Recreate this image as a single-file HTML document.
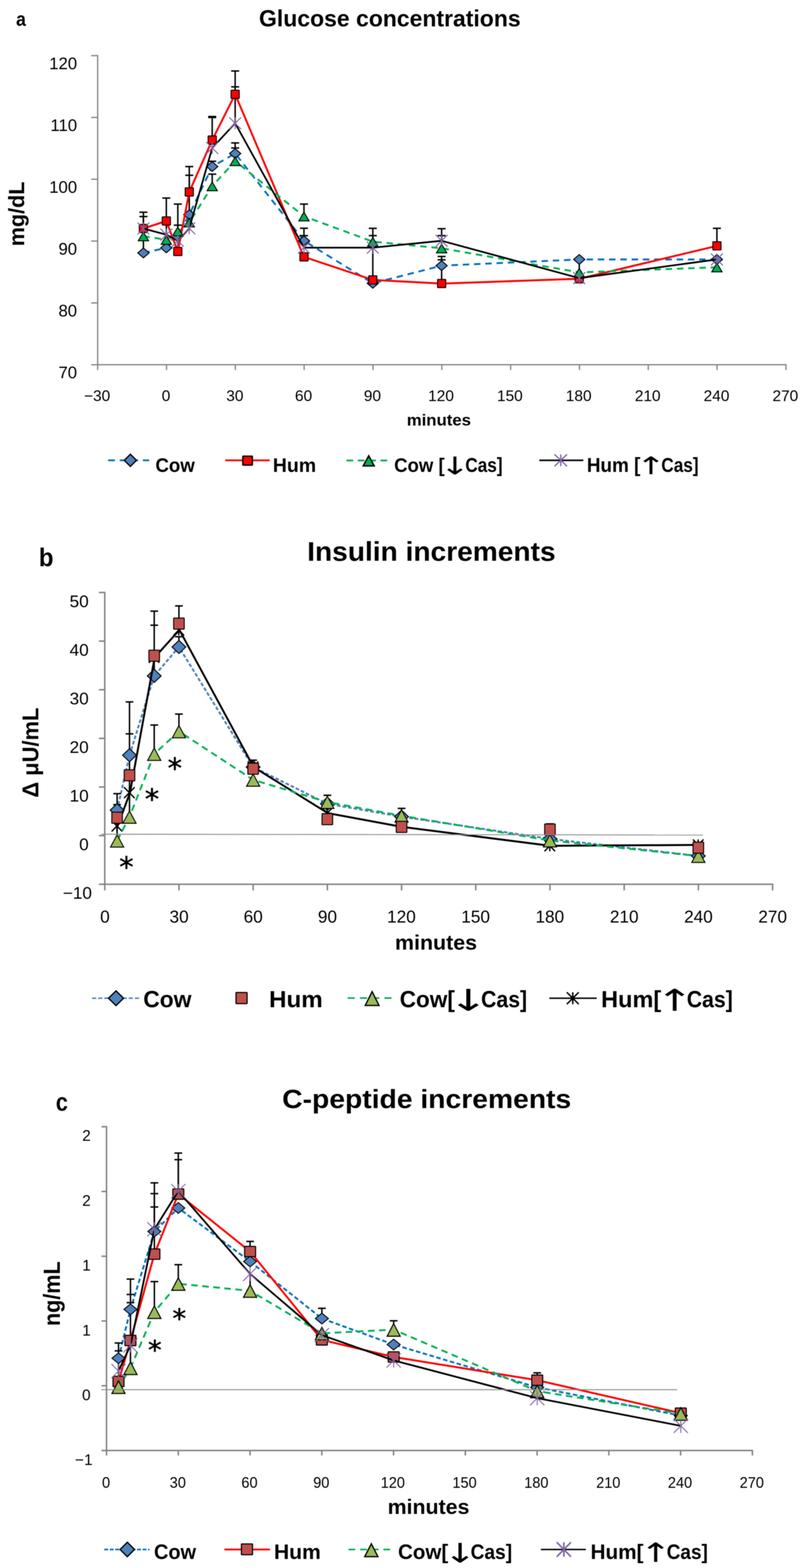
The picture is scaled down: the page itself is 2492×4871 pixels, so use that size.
<!DOCTYPE html>
<html lang="en"><head><meta charset="utf-8"><title>Glucose, insulin and C-peptide responses</title>
<style>
html,body{margin:0;padding:0;background:#fff}
svg{display:block;filter:blur(1px)}
text{font-family:"Liberation Sans",sans-serif;fill:#000}
</style></head>
<body>
<svg width="2492" height="4871" viewBox="0 0 2492 4871">
<rect width="2492" height="4871" fill="#fff"/>
<line x1="303.5" y1="170.8" x2="303.5" y2="1149.5" stroke="#868686" stroke-width="4"/>
<line x1="283.5" y1="1133.0" x2="2444.0" y2="1133.0" stroke="#868686" stroke-width="4"/>
<line x1="283.5" y1="172.8" x2="303.5" y2="172.8" stroke="#868686" stroke-width="4"/>
<line x1="283.5" y1="364.8" x2="303.5" y2="364.8" stroke="#868686" stroke-width="4"/>
<line x1="283.5" y1="556.9" x2="303.5" y2="556.9" stroke="#868686" stroke-width="4"/>
<line x1="283.5" y1="748.9" x2="303.5" y2="748.9" stroke="#868686" stroke-width="4"/>
<line x1="283.5" y1="941.0" x2="303.5" y2="941.0" stroke="#868686" stroke-width="4"/>
<line x1="517.4" y1="1133.0" x2="517.4" y2="1149.5" stroke="#868686" stroke-width="4"/>
<line x1="731.2" y1="1133.0" x2="731.2" y2="1149.5" stroke="#868686" stroke-width="4"/>
<line x1="945.0" y1="1133.0" x2="945.0" y2="1149.5" stroke="#868686" stroke-width="4"/>
<line x1="1158.9" y1="1133.0" x2="1158.9" y2="1149.5" stroke="#868686" stroke-width="4"/>
<line x1="1372.8" y1="1133.0" x2="1372.8" y2="1149.5" stroke="#868686" stroke-width="4"/>
<line x1="1586.6" y1="1133.0" x2="1586.6" y2="1149.5" stroke="#868686" stroke-width="4"/>
<line x1="1800.5" y1="1133.0" x2="1800.5" y2="1149.5" stroke="#868686" stroke-width="4"/>
<line x1="2014.3" y1="1133.0" x2="2014.3" y2="1149.5" stroke="#868686" stroke-width="4"/>
<line x1="2228.1" y1="1133.0" x2="2228.1" y2="1149.5" stroke="#868686" stroke-width="4"/>
<line x1="2442.0" y1="1133.0" x2="2442.0" y2="1149.5" stroke="#868686" stroke-width="4"/>
<text transform="translate(152.97,215.00) scale(1.0000,1)" font-size="51.86">120</text>
<text transform="translate(156.86,407.04) scale(1.0000,1)" font-size="51.86">110</text>
<text transform="translate(152.97,599.08) scale(1.0000,1)" font-size="51.86">100</text>
<text transform="translate(181.75,791.12) scale(1.0000,1)" font-size="51.86">90</text>
<text transform="translate(181.75,983.16) scale(1.0000,1)" font-size="51.86">80</text>
<text transform="translate(181.75,1175.20) scale(1.0000,1)" font-size="51.86">70</text>
<text transform="translate(261.08,1246.30) scale(1.0000,1)" font-size="48.00">−30</text>
<text transform="translate(502.53,1246.30) scale(1.0000,1)" font-size="48.00">0</text>
<text transform="translate(702.94,1246.30) scale(1.0000,1)" font-size="48.00">30</text>
<text transform="translate(916.55,1246.30) scale(1.0000,1)" font-size="48.00">60</text>
<text transform="translate(1130.52,1246.30) scale(1.0000,1)" font-size="48.00">90</text>
<text transform="translate(1330.33,1246.30) scale(1.0000,1)" font-size="48.00">120</text>
<text transform="translate(1544.18,1246.30) scale(1.0000,1)" font-size="48.00">150</text>
<text transform="translate(1758.03,1246.30) scale(1.0000,1)" font-size="48.00">180</text>
<text transform="translate(1972.48,1246.30) scale(1.0000,1)" font-size="48.00">210</text>
<text transform="translate(2186.33,1246.30) scale(1.0000,1)" font-size="48.00">240</text>
<text transform="translate(2400.18,1246.30) scale(1.0000,1)" font-size="48.00">270</text>
<text transform="translate(49.96,79.78) scale(0.8825,1)" font-size="62.00" font-weight="bold">a</text>
<text transform="translate(804.84,81.90) scale(0.9930,1)" font-size="71.88" font-weight="bold">Glucose concentrations</text>
<text transform="translate(75.10,764.95) rotate(-90) scale(0.9670,1)" font-size="69.28" font-weight="bold">mg/dL</text>
<text transform="translate(1263.92,1322.30) scale(1.0405,1)" font-size="50.00" font-weight="bold">minutes</text>
<polyline points="445.6,785.7 516.8,770.0 552.5,733.0 588.1,666.8 659.4,517.4 730.7,477.0 944.5,748.0 1158.4,880.0 1372.2,825.3 1799.9,806.0 2227.6,806.0" fill="none" stroke="#0070C0" stroke-width="5.8" stroke-linejoin="round" stroke-linecap="butt" stroke-dasharray="20 15"/>
<path d="M445.6,672.8V785.7M433.1,672.8H458.1" fill="none" stroke="#000" stroke-width="4.5"/>
<path d="M588.1,544.5V666.8M575.6,544.5H600.6" fill="none" stroke="#000" stroke-width="4.5"/>
<path d="M659.4,501.0V517.0M646.9,501.0H671.9" fill="none" stroke="#000" stroke-width="4.5"/>
<path d="M730.7,444.0V477.0M718.2,444.0H743.2" fill="none" stroke="#000" stroke-width="4.5"/>
<path d="M944.5,709.0V748.0M932.0,709.0H957.0" fill="none" stroke="#000" stroke-width="4.5"/>
<path d="M1372.2,796.7V825.0M1359.7,796.7H1384.7" fill="none" stroke="#000" stroke-width="4.5"/>
<path d="M445.6,659.2V709.9M433.1,659.2H458.1" fill="none" stroke="#000" stroke-width="4.5"/>
<path d="M516.8,615.2V686.5M504.3,615.2H529.3" fill="none" stroke="#000" stroke-width="4.5"/>
<path d="M552.5,634.0V781.0M540.0,634.0H565.0" fill="none" stroke="#000" stroke-width="4.5"/>
<path d="M588.1,517.4V596.0M575.6,517.4H600.6" fill="none" stroke="#000" stroke-width="4.5"/>
<path d="M659.4,363.0V435.0M646.9,362.0H671.9M646.9,365.0H671.9" fill="none" stroke="#000" stroke-width="4.5"/>
<path d="M730.7,220.5V293.0M718.2,220.5H743.2" fill="none" stroke="#000" stroke-width="4.5"/>
<path d="M1158.4,709.3V869.0M1145.9,709.3H1170.9" fill="none" stroke="#000" stroke-width="4.5"/>
<path d="M1372.2,807.0V881.0M1359.7,807.0H1384.7" fill="none" stroke="#000" stroke-width="4.5"/>
<path d="M2227.6,709.2V764.0M2215.1,709.2H2240.1" fill="none" stroke="#000" stroke-width="4.5"/>
<path d="M516.8,700.0V770.0" fill="none" stroke="#000" stroke-width="4.5"/>
<path d="M552.5,699.5V721.0M540.0,699.5H565.0" fill="none" stroke="#000" stroke-width="4.5"/>
<path d="M588.1,671.0V691.0M575.6,671.0H600.6" fill="none" stroke="#000" stroke-width="4.5"/>
<path d="M659.4,541.0V581.0M646.9,541.0H671.9" fill="none" stroke="#000" stroke-width="4.5"/>
<path d="M730.7,459.7V504.0M718.2,459.7H743.2" fill="none" stroke="#000" stroke-width="4.5"/>
<path d="M944.5,634.0V672.0M932.0,634.0H957.0" fill="none" stroke="#000" stroke-width="4.5"/>
<path d="M1158.4,732.0V750.0M1145.9,732.0H1170.9" fill="none" stroke="#000" stroke-width="4.5"/>
<path d="M1372.2,732.0V770.0M1359.7,732.0H1384.7" fill="none" stroke="#000" stroke-width="4.5"/>
<path d="M1799.9,815.0V864.0" fill="none" stroke="#000" stroke-width="4.5"/>
<path d="M2227.6,790.0V832.0" fill="none" stroke="#000" stroke-width="4.5"/>
<path d="M730.7,269.8V382.0M718.2,269.8H743.2" fill="none" stroke="#000" stroke-width="4.5"/>
<path d="M944.5,732.0V769.0M932.0,732.0H957.0" fill="none" stroke="#000" stroke-width="4.5"/>
<path d="M1372.2,710.6V748.0M1359.7,710.6H1384.7" fill="none" stroke="#000" stroke-width="4.5"/>
<path d="M445.6,770.5L463.1,785.7L445.6,801.0L428.1,785.7Z" fill="#4F81BD" stroke="#000" stroke-width="3" stroke-linejoin="miter"/>
<path d="M516.8,754.8L534.3,770.0L516.8,785.2L499.3,770.0Z" fill="#4F81BD" stroke="#000" stroke-width="3" stroke-linejoin="miter"/>
<path d="M552.5,717.8L570.0,733.0L552.5,748.2L535.0,733.0Z" fill="#4F81BD" stroke="#000" stroke-width="3" stroke-linejoin="miter"/>
<path d="M588.1,651.5L605.6,666.8L588.1,682.0L570.6,666.8Z" fill="#4F81BD" stroke="#000" stroke-width="3" stroke-linejoin="miter"/>
<path d="M659.4,502.1L676.9,517.4L659.4,532.6L641.9,517.4Z" fill="#4F81BD" stroke="#000" stroke-width="3" stroke-linejoin="miter"/>
<path d="M730.7,461.8L748.2,477.0L730.7,492.2L713.2,477.0Z" fill="#4F81BD" stroke="#000" stroke-width="3" stroke-linejoin="miter"/>
<path d="M944.5,732.8L962.0,748.0L944.5,763.2L927.0,748.0Z" fill="#4F81BD" stroke="#000" stroke-width="3" stroke-linejoin="miter"/>
<path d="M1158.4,864.8L1175.9,880.0L1158.4,895.2L1140.9,880.0Z" fill="#4F81BD" stroke="#000" stroke-width="3" stroke-linejoin="miter"/>
<path d="M1372.2,810.0L1389.7,825.3L1372.2,840.5L1354.7,825.3Z" fill="#4F81BD" stroke="#000" stroke-width="3" stroke-linejoin="miter"/>
<path d="M1799.9,790.8L1817.4,806.0L1799.9,821.2L1782.4,806.0Z" fill="#4F81BD" stroke="#000" stroke-width="3" stroke-linejoin="miter"/>
<path d="M2227.6,790.8L2245.1,806.0L2227.6,821.2L2210.1,806.0Z" fill="#4F81BD" stroke="#000" stroke-width="3" stroke-linejoin="miter"/>
<polyline points="445.6,709.9 516.8,686.5 552.5,781.2 588.1,596.3 659.4,435.0 730.7,293.0 944.5,798.0 1158.4,869.5 1372.2,880.9 1799.9,866.0 2227.6,763.8" fill="none" stroke="#FF0000" stroke-width="6" stroke-linejoin="round" stroke-linecap="butt"/>
<rect x="432.8" y="697.1" width="25.5" height="25.5" rx="1.5" fill="#FF0000" stroke="#000" stroke-width="3"/>
<rect x="504.1" y="673.8" width="25.5" height="25.5" rx="1.5" fill="#FF0000" stroke="#000" stroke-width="3"/>
<rect x="539.7" y="768.5" width="25.5" height="25.5" rx="1.5" fill="#FF0000" stroke="#000" stroke-width="3"/>
<rect x="575.4" y="583.5" width="25.5" height="25.5" rx="1.5" fill="#FF0000" stroke="#000" stroke-width="3"/>
<rect x="646.7" y="422.2" width="25.5" height="25.5" rx="1.5" fill="#FF0000" stroke="#000" stroke-width="3"/>
<rect x="717.9" y="280.2" width="25.5" height="25.5" rx="1.5" fill="#FF0000" stroke="#000" stroke-width="3"/>
<rect x="931.8" y="785.2" width="25.5" height="25.5" rx="1.5" fill="#FF0000" stroke="#000" stroke-width="3"/>
<rect x="1145.6" y="856.8" width="25.5" height="25.5" rx="1.5" fill="#FF0000" stroke="#000" stroke-width="3"/>
<rect x="1359.5" y="868.1" width="25.5" height="25.5" rx="1.5" fill="#FF0000" stroke="#000" stroke-width="3"/>
<rect x="1787.2" y="853.2" width="25.5" height="25.5" rx="1.5" fill="#FF0000" stroke="#000" stroke-width="3"/>
<rect x="2214.9" y="751.0" width="25.5" height="25.5" rx="1.5" fill="#FF0000" stroke="#000" stroke-width="3"/>
<polyline points="445.6,733.8 516.8,744.7 552.5,718.0 588.1,690.7 659.4,578.4 730.7,500.4 944.5,672.0 1158.4,750.6 1372.2,771.2 1799.9,846.2 2227.6,830.2" fill="none" stroke="#00B050" stroke-width="5.8" stroke-linejoin="round" stroke-linecap="butt" stroke-dasharray="20 15"/>
<path d="M445.6,721.0L461.6,748.0L429.6,748.0Z" fill="#00B050" stroke="#000" stroke-width="3" stroke-linejoin="miter"/>
<path d="M516.8,732.0L532.8,759.0L500.8,759.0Z" fill="#00B050" stroke="#000" stroke-width="3" stroke-linejoin="miter"/>
<path d="M552.5,705.2L568.5,732.2L536.5,732.2Z" fill="#00B050" stroke="#000" stroke-width="3" stroke-linejoin="miter"/>
<path d="M588.1,678.0L604.1,705.0L572.1,705.0Z" fill="#00B050" stroke="#000" stroke-width="3" stroke-linejoin="miter"/>
<path d="M659.4,565.6L675.4,592.6L643.4,592.6Z" fill="#00B050" stroke="#000" stroke-width="3" stroke-linejoin="miter"/>
<path d="M730.7,487.6L746.7,514.6L714.7,514.6Z" fill="#00B050" stroke="#000" stroke-width="3" stroke-linejoin="miter"/>
<path d="M944.5,659.2L960.5,686.2L928.5,686.2Z" fill="#00B050" stroke="#000" stroke-width="3" stroke-linejoin="miter"/>
<path d="M1158.4,737.9L1174.4,764.9L1142.4,764.9Z" fill="#00B050" stroke="#000" stroke-width="3" stroke-linejoin="miter"/>
<path d="M1372.2,758.5L1388.2,785.5L1356.2,785.5Z" fill="#00B050" stroke="#000" stroke-width="3" stroke-linejoin="miter"/>
<path d="M1799.9,833.5L1815.9,860.5L1783.9,860.5Z" fill="#00B050" stroke="#000" stroke-width="3" stroke-linejoin="miter"/>
<path d="M2227.6,817.5L2243.6,844.5L2211.6,844.5Z" fill="#00B050" stroke="#000" stroke-width="3" stroke-linejoin="miter"/>
<polyline points="445.6,709.9 516.8,729.0 552.5,748.1 588.1,709.3 659.4,459.7 730.7,382.8 944.5,769.3 1158.4,769.3 1372.2,748.0 1799.9,864.0 2227.6,806.0" fill="none" stroke="#000" stroke-width="5.3" stroke-linejoin="round" stroke-linecap="butt"/>
<path d="M427.1,691.4L464.1,728.4M464.1,691.4L427.1,728.4M445.6,691.4L445.6,728.4" fill="none" stroke="#8064A2" stroke-width="3.2"/>
<path d="M498.3,710.5L535.3,747.5M535.3,710.5L498.3,747.5M516.8,710.5L516.8,747.5" fill="none" stroke="#8064A2" stroke-width="3.2"/>
<path d="M534.0,729.6L571.0,766.6M571.0,729.6L534.0,766.6M552.5,729.6L552.5,766.6" fill="none" stroke="#8064A2" stroke-width="3.2"/>
<path d="M569.6,690.8L606.6,727.8M606.6,690.8L569.6,727.8M588.1,690.8L588.1,727.8" fill="none" stroke="#8064A2" stroke-width="3.2"/>
<path d="M640.9,441.2L677.9,478.2M677.9,441.2L640.9,478.2M659.4,441.2L659.4,478.2" fill="none" stroke="#8064A2" stroke-width="3.2"/>
<path d="M712.2,364.3L749.2,401.3M749.2,364.3L712.2,401.3M730.7,364.3L730.7,401.3" fill="none" stroke="#8064A2" stroke-width="3.2"/>
<path d="M926.0,750.8L963.0,787.8M963.0,750.8L926.0,787.8M944.5,750.8L944.5,787.8" fill="none" stroke="#8064A2" stroke-width="3.2"/>
<path d="M1139.9,750.8L1176.9,787.8M1176.9,750.8L1139.9,787.8M1158.4,750.8L1158.4,787.8" fill="none" stroke="#8064A2" stroke-width="3.2"/>
<path d="M1353.7,729.5L1390.7,766.5M1390.7,729.5L1353.7,766.5M1372.2,729.5L1372.2,766.5" fill="none" stroke="#8064A2" stroke-width="3.2"/>
<path d="M1781.4,845.5L1818.4,882.5M1818.4,845.5L1781.4,882.5M1799.9,845.5L1799.9,882.5" fill="none" stroke="#8064A2" stroke-width="3.2"/>
<path d="M2209.1,787.5L2246.1,824.5M2246.1,787.5L2209.1,824.5M2227.6,787.5L2227.6,824.5" fill="none" stroke="#8064A2" stroke-width="3.2"/>
<polyline points="336.0,1430.0 463.5,1430.0" fill="none" stroke="#0070C0" stroke-width="5.6" stroke-linejoin="round" stroke-linecap="butt" stroke-dasharray="21 15"/>
<path d="M405.1,1411.0L424.1,1430.0L405.1,1449.0L386.1,1430.0Z" fill="#4F81BD" stroke="#000" stroke-width="4" stroke-linejoin="miter"/>
<text transform="translate(482.98,1465.60) scale(0.9338,1)" font-size="62.03" font-weight="bold">Cow</text>
<polyline points="700.2,1430.0 838.0,1430.0" fill="none" stroke="#FF0000" stroke-width="5.6" stroke-linejoin="round" stroke-linecap="butt"/>
<rect x="754.5" y="1417.2" width="29.5" height="27.5" rx="1.5" fill="#FF0000" stroke="#000" stroke-width="4.5"/>
<text transform="translate(847.87,1465.60) scale(0.9758,1)" font-size="62.03" font-weight="bold">Hum</text>
<polyline points="1076.4,1430.5 1203.2,1430.5" fill="none" stroke="#00B050" stroke-width="5.6" stroke-linejoin="round" stroke-linecap="butt" stroke-dasharray="21 14.3"/>
<path d="M1145.7,1415.9L1162.7,1447.2L1128.7,1447.2Z" fill="#00B050" stroke="#000" stroke-width="4.5" stroke-linejoin="miter"/>
<text transform="translate(1224.69,1465.60) scale(0.9299,1)" font-size="62.03" font-weight="bold">Cow [</text>
<text transform="translate(1366.35,1474.00) scale(1.4855,1)" font-size="76.03" style="font-family:'DejaVu Sans',sans-serif">↓</text>
<text transform="translate(1445.66,1465.60) scale(0.8621,1)" font-size="62.03" font-weight="bold">Cas]</text>
<polyline points="1676.0,1430.0 1812.5,1430.0" fill="none" stroke="#000" stroke-width="4.8" stroke-linejoin="round" stroke-linecap="butt"/>
<path d="M1722.9,1411.5L1761.9,1448.5M1761.9,1411.5L1722.9,1448.5M1742.4,1411.5L1742.4,1448.5" fill="none" stroke="#8064A2" stroke-width="4"/>
<text transform="translate(1823.38,1465.60) scale(0.9480,1)" font-size="62.03" font-weight="bold">Hum [</text>
<text transform="translate(1975.68,1473.00) scale(1.4772,1)" font-size="75.34" style="font-family:'DejaVu Sans',sans-serif">↑</text>
<text transform="translate(2054.76,1465.60) scale(0.8621,1)" font-size="62.03" font-weight="bold">Cas]</text>
<line x1="325.5" y1="1838.4" x2="325.5" y2="2766.0" stroke="#808080" stroke-width="4.5"/>
<line x1="307.3" y1="2747.0" x2="2402.8" y2="2747.0" stroke="#808080" stroke-width="4.5"/>
<line x1="307.3" y1="1840.6" x2="325.5" y2="1840.6" stroke="#808080" stroke-width="4.5"/>
<line x1="307.3" y1="1991.7" x2="325.5" y2="1991.7" stroke="#808080" stroke-width="4.5"/>
<line x1="307.3" y1="2142.7" x2="325.5" y2="2142.7" stroke="#808080" stroke-width="4.5"/>
<line x1="307.3" y1="2293.8" x2="325.5" y2="2293.8" stroke="#808080" stroke-width="4.5"/>
<line x1="307.3" y1="2444.9" x2="325.5" y2="2444.9" stroke="#808080" stroke-width="4.5"/>
<line x1="307.3" y1="2595.9" x2="325.5" y2="2595.9" stroke="#808080" stroke-width="4.5"/>
<line x1="556.1" y1="2747.0" x2="556.1" y2="2766.0" stroke="#808080" stroke-width="4.5"/>
<line x1="786.6" y1="2747.0" x2="786.6" y2="2766.0" stroke="#808080" stroke-width="4.5"/>
<line x1="1017.2" y1="2747.0" x2="1017.2" y2="2766.0" stroke="#808080" stroke-width="4.5"/>
<line x1="1247.8" y1="2747.0" x2="1247.8" y2="2766.0" stroke="#808080" stroke-width="4.5"/>
<line x1="1478.3" y1="2747.0" x2="1478.3" y2="2766.0" stroke="#808080" stroke-width="4.5"/>
<line x1="1708.9" y1="2747.0" x2="1708.9" y2="2766.0" stroke="#808080" stroke-width="4.5"/>
<line x1="1939.5" y1="2747.0" x2="1939.5" y2="2766.0" stroke="#808080" stroke-width="4.5"/>
<line x1="2170.0" y1="2747.0" x2="2170.0" y2="2766.0" stroke="#808080" stroke-width="4.5"/>
<line x1="2400.6" y1="2747.0" x2="2400.6" y2="2766.0" stroke="#808080" stroke-width="4.5"/>
<text transform="translate(216.32,1886.00) scale(1.0400,1)" font-size="51.14">50</text>
<text transform="translate(216.32,2037.00) scale(1.0400,1)" font-size="51.14">40</text>
<text transform="translate(216.32,2188.00) scale(1.0400,1)" font-size="51.14">30</text>
<text transform="translate(216.32,2339.00) scale(1.0400,1)" font-size="51.14">20</text>
<text transform="translate(216.32,2490.00) scale(1.0400,1)" font-size="51.14">10</text>
<text transform="translate(246.11,2641.00) scale(1.0400,1)" font-size="51.14">0</text>
<text transform="translate(195.47,2792.30) scale(1.0400,1)" font-size="51.14">−10</text>
<text transform="translate(311.19,2866.20) scale(1.0100,1)" font-size="52.86">0</text>
<text transform="translate(526.80,2866.20) scale(1.0100,1)" font-size="52.86">30</text>
<text transform="translate(757.10,2866.20) scale(1.0100,1)" font-size="52.86">60</text>
<text transform="translate(987.80,2866.20) scale(1.0100,1)" font-size="52.86">90</text>
<text transform="translate(1202.76,2866.20) scale(1.0100,1)" font-size="52.86">120</text>
<text transform="translate(1433.32,2866.20) scale(1.0100,1)" font-size="52.86">150</text>
<text transform="translate(1663.89,2866.20) scale(1.0100,1)" font-size="52.86">180</text>
<text transform="translate(1895.12,2866.20) scale(1.0100,1)" font-size="52.86">210</text>
<text transform="translate(2125.69,2866.20) scale(1.0100,1)" font-size="52.86">240</text>
<text transform="translate(2356.26,2866.20) scale(1.0100,1)" font-size="52.86">270</text>
<text transform="translate(120.76,1759.30) scale(0.9421,1)" font-size="79.03" font-weight="bold">b</text>
<text transform="translate(954.42,1742.40) scale(1.0395,1)" font-size="84.06" font-weight="bold">Insulin increments</text>
<text transform="translate(118.80,2477.72) rotate(-90) scale(0.9618,1)" font-size="70.72" font-weight="bold">Δ μU/mL</text>
<text transform="translate(1227.27,2950.20) scale(1.0165,1)" font-size="65.47" font-weight="bold">minutes</text>
<polyline points="363.9,2516.8 402.4,2346.1 479.2,2099.7 556.0,2009.8 786.6,2383.0 1017.1,2497.0 1247.7,2537.0 1708.8,2606.0 2169.9,2659.0" fill="none" stroke="#4F81BD" stroke-width="6" stroke-linejoin="round" stroke-linecap="butt" stroke-dasharray="11.5 6"/>
<path d="M363.9,2465.6V2517.0M351.9,2465.6H375.9M351.9,2499.7H375.9" fill="none" stroke="#000" stroke-width="4.5"/>
<path d="M402.4,2180.5V2346.0M390.4,2180.5H414.4M390.4,2279.8H414.4" fill="none" stroke="#000" stroke-width="4.5"/>
<path d="M479.2,1898.6V2100.0M467.2,1898.6H491.2M467.2,1942.3H491.2" fill="none" stroke="#000" stroke-width="4.5"/>
<path d="M556.0,1978.0V2010.0M544.0,1978.0H568.0" fill="none" stroke="#000" stroke-width="4.5"/>
<path d="M786.6,2361.5V2383.0M774.6,2361.5H798.6" fill="none" stroke="#000" stroke-width="4.5"/>
<path d="M402.4,2346.0V2537.0" fill="none" stroke="#000" stroke-width="4.5"/>
<path d="M363.9,2540.0V2611.0" fill="none" stroke="#000" stroke-width="4.5"/>
<path d="M556.0,1882.3V1937.0M544.0,1882.3H568.0" fill="none" stroke="#000" stroke-width="4.5"/>
<path d="M1708.8,2559.5V2577.0M1696.8,2559.5H1720.8" fill="none" stroke="#000" stroke-width="4.5"/>
<path d="M479.2,2252.2V2342.0M467.2,2252.2H491.2" fill="none" stroke="#000" stroke-width="4.5"/>
<path d="M556.0,2218.2V2272.0M544.0,2218.2H568.0" fill="none" stroke="#000" stroke-width="4.5"/>
<path d="M1017.1,2470.4V2491.0M1005.1,2470.4H1029.2" fill="none" stroke="#000" stroke-width="4.5"/>
<path d="M1247.7,2511.3V2534.0M1235.7,2511.3H1259.7" fill="none" stroke="#000" stroke-width="4.5"/>
<path d="M363.9,2496.3L385.4,2516.8L363.9,2537.3L342.4,2516.8Z" fill="#4F81BD" stroke="#000" stroke-width="3" stroke-linejoin="miter"/>
<path d="M402.4,2325.6L423.9,2346.1L402.4,2366.6L380.9,2346.1Z" fill="#4F81BD" stroke="#000" stroke-width="3" stroke-linejoin="miter"/>
<path d="M479.2,2079.2L500.7,2099.7L479.2,2120.2L457.7,2099.7Z" fill="#4F81BD" stroke="#000" stroke-width="3" stroke-linejoin="miter"/>
<path d="M556.0,1989.3L577.5,2009.8L556.0,2030.3L534.5,2009.8Z" fill="#4F81BD" stroke="#000" stroke-width="3" stroke-linejoin="miter"/>
<path d="M786.6,2362.5L808.1,2383.0L786.6,2403.5L765.1,2383.0Z" fill="#4F81BD" stroke="#000" stroke-width="3" stroke-linejoin="miter"/>
<path d="M1017.1,2476.5L1038.7,2497.0L1017.1,2517.5L995.6,2497.0Z" fill="#4F81BD" stroke="#000" stroke-width="3" stroke-linejoin="miter"/>
<path d="M1247.7,2516.5L1269.2,2537.0L1247.7,2557.5L1226.2,2537.0Z" fill="#4F81BD" stroke="#000" stroke-width="3" stroke-linejoin="miter"/>
<path d="M1708.8,2585.5L1730.3,2606.0L1708.8,2626.5L1687.3,2606.0Z" fill="#4F81BD" stroke="#000" stroke-width="3" stroke-linejoin="miter"/>
<path d="M2169.9,2638.5L2191.4,2659.0L2169.9,2679.5L2148.4,2659.0Z" fill="#4F81BD" stroke="#000" stroke-width="3" stroke-linejoin="miter"/>
<polyline points="365.4,2566.0 403.9,2462.5 480.7,2042.0 557.5,1957.0 788.1,2383.0 1018.6,2526.0 1249.2,2568.7 1710.3,2627.5 2171.4,2624.8" fill="none" stroke="#000" stroke-width="6" stroke-linejoin="round" stroke-linecap="butt"/>
<path d="M346.9,2549.0L379.9,2583.0M379.9,2549.0L346.9,2583.0M363.4,2549.0L363.4,2583.0" fill="none" stroke="#000" stroke-width="4.3"/>
<path d="M385.4,2445.5L418.4,2479.5M418.4,2445.5L385.4,2479.5M401.9,2445.5L401.9,2479.5" fill="none" stroke="#000" stroke-width="4.3"/>
<path d="M462.2,2025.0L495.2,2059.0M495.2,2025.0L462.2,2059.0M478.7,2025.0L478.7,2059.0" fill="none" stroke="#000" stroke-width="4.3"/>
<path d="M539.0,1940.0L572.0,1974.0M572.0,1940.0L539.0,1974.0M555.5,1940.0L555.5,1974.0" fill="none" stroke="#000" stroke-width="4.3"/>
<path d="M769.6,2366.0L802.6,2400.0M802.6,2366.0L769.6,2400.0M786.1,2366.0L786.1,2400.0" fill="none" stroke="#000" stroke-width="4.3"/>
<path d="M1000.1,2509.0L1033.2,2543.0M1033.2,2509.0L1000.1,2543.0M1016.6,2509.0L1016.6,2543.0" fill="none" stroke="#000" stroke-width="4.3"/>
<path d="M1230.7,2551.7L1263.7,2585.7M1263.7,2551.7L1230.7,2585.7M1247.2,2551.7L1247.2,2585.7" fill="none" stroke="#000" stroke-width="4.3"/>
<path d="M1691.8,2610.5L1724.8,2644.5M1724.8,2610.5L1691.8,2644.5M1708.3,2610.5L1708.3,2644.5" fill="none" stroke="#000" stroke-width="4.3"/>
<path d="M2152.9,2607.8L2185.9,2641.8M2185.9,2607.8L2152.9,2641.8M2169.4,2607.8L2169.4,2641.8" fill="none" stroke="#000" stroke-width="4.3"/>
<polyline points="363.9,2611.6 402.4,2537.6 479.2,2342.3 556.0,2272.0 786.6,2422.6 1017.1,2491.6 1247.7,2534.1 1708.8,2611.0 2169.9,2659.3" fill="none" stroke="#00B050" stroke-width="5.8" stroke-linejoin="round" stroke-linecap="butt" stroke-dasharray="20.5 14"/>
<path d="M363.9,2593.1L384.4,2631.6L343.4,2631.6Z" fill="#9BBB59" stroke="#000" stroke-width="3" stroke-linejoin="miter"/>
<path d="M402.4,2519.1L422.9,2557.6L381.9,2557.6Z" fill="#9BBB59" stroke="#000" stroke-width="3" stroke-linejoin="miter"/>
<path d="M479.2,2323.8L499.7,2362.3L458.7,2362.3Z" fill="#9BBB59" stroke="#000" stroke-width="3" stroke-linejoin="miter"/>
<path d="M556.0,2253.5L576.5,2292.0L535.5,2292.0Z" fill="#9BBB59" stroke="#000" stroke-width="3" stroke-linejoin="miter"/>
<path d="M786.6,2404.1L807.1,2442.6L766.1,2442.6Z" fill="#9BBB59" stroke="#000" stroke-width="3" stroke-linejoin="miter"/>
<path d="M1017.1,2473.1L1037.7,2511.6L996.6,2511.6Z" fill="#9BBB59" stroke="#000" stroke-width="3" stroke-linejoin="miter"/>
<path d="M1247.7,2515.6L1268.2,2554.1L1227.2,2554.1Z" fill="#9BBB59" stroke="#000" stroke-width="3" stroke-linejoin="miter"/>
<path d="M1708.8,2592.5L1729.3,2631.0L1688.3,2631.0Z" fill="#9BBB59" stroke="#000" stroke-width="3" stroke-linejoin="miter"/>
<path d="M2169.9,2640.8L2190.4,2679.3L2149.4,2679.3Z" fill="#9BBB59" stroke="#000" stroke-width="3" stroke-linejoin="miter"/>
<rect x="347.4" y="2523.1" width="33.0" height="34.5" rx="1.5" fill="#C0504D" stroke="#000" stroke-width="3"/>
<rect x="385.9" y="2391.3" width="33.0" height="34.5" rx="1.5" fill="#C0504D" stroke="#000" stroke-width="3"/>
<rect x="462.7" y="2019.8" width="33.0" height="34.5" rx="1.5" fill="#C0504D" stroke="#000" stroke-width="3"/>
<rect x="539.5" y="1920.0" width="33.0" height="34.5" rx="1.5" fill="#C0504D" stroke="#000" stroke-width="3"/>
<rect x="770.1" y="2370.8" width="33.0" height="34.5" rx="1.5" fill="#C0504D" stroke="#000" stroke-width="3"/>
<rect x="1000.6" y="2527.6" width="33.0" height="34.5" rx="1.5" fill="#C0504D" stroke="#000" stroke-width="3"/>
<rect x="1231.2" y="2551.4" width="33.0" height="34.5" rx="1.5" fill="#C0504D" stroke="#000" stroke-width="3"/>
<rect x="1692.3" y="2559.8" width="33.0" height="34.5" rx="1.5" fill="#C0504D" stroke="#000" stroke-width="3"/>
<rect x="2153.4" y="2616.1" width="33.0" height="34.5" rx="1.5" fill="#C0504D" stroke="#000" stroke-width="3"/>
<line x1="315.0" y1="2591.5" x2="2184.5" y2="2594.0" stroke="#8c8c8c" stroke-width="2.8"/>
<text transform="translate(520.93,2417.10) scale(1.0236,1)" font-size="87.03" style="font-family:'DejaVu Sans',sans-serif" stroke="#000" stroke-width="1.3" stroke-linejoin="round">*</text>
<text transform="translate(449.93,2513.00) scale(1.0236,1)" font-size="87.03" style="font-family:'DejaVu Sans',sans-serif" stroke="#000" stroke-width="1.3" stroke-linejoin="round">*</text>
<text transform="translate(370.43,2723.60) scale(1.0236,1)" font-size="87.03" style="font-family:'DejaVu Sans',sans-serif" stroke="#000" stroke-width="1.3" stroke-linejoin="round">*</text>
<polyline points="286.0,3101.0 432.5,3101.0" fill="none" stroke="#4F81BD" stroke-width="4.4" stroke-linejoin="round" stroke-linecap="butt" stroke-dasharray="13 6"/>
<path d="M360.5,3078.0L384.0,3101.0L360.5,3124.0L337.0,3101.0Z" fill="#4F81BD" stroke="#000" stroke-width="4" stroke-linejoin="miter"/>
<text transform="translate(445.16,3128.80) scale(0.9826,1)" font-size="72.17" font-weight="bold">Cow</text>
<rect x="733.4" y="3083.3" width="34.4" height="34.4" rx="1.5" fill="#C0504D" stroke="#000" stroke-width="3.6"/>
<text transform="translate(835.92,3128.80) scale(1.0410,1)" font-size="72.17" font-weight="bold">Hum</text>
<polyline points="1080.5,3100.5 1217.0,3100.5" fill="none" stroke="#00B050" stroke-width="5" stroke-linejoin="round" stroke-linecap="butt" stroke-dasharray="22 16"/>
<path d="M1156.3,3080.5L1177.8,3123.5L1134.8,3123.5Z" fill="#9BBB59" stroke="#000" stroke-width="4" stroke-linejoin="miter"/>
<text transform="translate(1241.99,3128.80) scale(0.9716,1)" font-size="72.17" font-weight="bold">Cow[</text>
<text transform="translate(1391.44,3140.40) scale(1.6366,1)" font-size="92.88" style="font-family:'DejaVu Sans',sans-serif">↓</text>
<text transform="translate(1494.86,3128.80) scale(0.9137,1)" font-size="72.17" font-weight="bold">Cas]</text>
<polyline points="1707.0,3101.0 1854.0,3101.0" fill="none" stroke="#000" stroke-width="4.6" stroke-linejoin="round" stroke-linecap="butt"/>
<path d="M1761.2,3082.5L1798.2,3119.5M1798.2,3082.5L1761.2,3119.5M1779.7,3082.5L1779.7,3119.5" fill="none" stroke="#000" stroke-width="4.5"/>
<text transform="translate(1867.75,3128.80) scale(1.0129,1)" font-size="72.17" font-weight="bold">Hum[</text>
<text transform="translate(2037.36,3139.60) scale(1.5089,1)" font-size="93.56" style="font-family:'DejaVu Sans',sans-serif">↑</text>
<text transform="translate(2133.96,3128.80) scale(0.9143,1)" font-size="72.17" font-weight="bold">Cas]</text>
<line x1="331.0" y1="3497.9" x2="331.0" y2="4521.5" stroke="#808080" stroke-width="4.5"/>
<line x1="315.5" y1="4506.0" x2="2340.0" y2="4506.0" stroke="#808080" stroke-width="4.5"/>
<line x1="315.5" y1="3500.1" x2="331.0" y2="3500.1" stroke="#808080" stroke-width="4.5"/>
<line x1="315.5" y1="3701.3" x2="331.0" y2="3701.3" stroke="#808080" stroke-width="4.5"/>
<line x1="315.5" y1="3902.5" x2="331.0" y2="3902.5" stroke="#808080" stroke-width="4.5"/>
<line x1="315.5" y1="4103.6" x2="331.0" y2="4103.6" stroke="#808080" stroke-width="4.5"/>
<line x1="315.5" y1="4304.8" x2="331.0" y2="4304.8" stroke="#808080" stroke-width="4.5"/>
<line x1="554.0" y1="4506.0" x2="554.0" y2="4521.5" stroke="#808080" stroke-width="4.5"/>
<line x1="777.0" y1="4506.0" x2="777.0" y2="4521.5" stroke="#808080" stroke-width="4.5"/>
<line x1="999.9" y1="4506.0" x2="999.9" y2="4521.5" stroke="#808080" stroke-width="4.5"/>
<line x1="1222.9" y1="4506.0" x2="1222.9" y2="4521.5" stroke="#808080" stroke-width="4.5"/>
<line x1="1445.9" y1="4506.0" x2="1445.9" y2="4521.5" stroke="#808080" stroke-width="4.5"/>
<line x1="1668.9" y1="4506.0" x2="1668.9" y2="4521.5" stroke="#808080" stroke-width="4.5"/>
<line x1="1891.8" y1="4506.0" x2="1891.8" y2="4521.5" stroke="#808080" stroke-width="4.5"/>
<line x1="2114.8" y1="4506.0" x2="2114.8" y2="4521.5" stroke="#808080" stroke-width="4.5"/>
<line x1="2337.8" y1="4506.0" x2="2337.8" y2="4521.5" stroke="#808080" stroke-width="4.5"/>
<text transform="translate(255.58,3544.20) scale(1.0000,1)" font-size="47.57">2</text>
<text transform="translate(255.58,3745.70) scale(1.0000,1)" font-size="47.57">2</text>
<text transform="translate(255.58,3947.20) scale(1.0000,1)" font-size="47.57">1</text>
<text transform="translate(255.58,4148.70) scale(1.0000,1)" font-size="47.57">1</text>
<text transform="translate(255.10,4350.00) scale(1.0000,1)" font-size="47.57">0</text>
<text transform="translate(233.35,4551.40) scale(1.0000,1)" font-size="47.57">−1</text>
<text transform="translate(316.96,4621.60) scale(0.9500,1)" font-size="47.57">0</text>
<text transform="translate(527.28,4621.60) scale(0.9500,1)" font-size="47.57">30</text>
<text transform="translate(750.03,4621.60) scale(0.9500,1)" font-size="47.57">60</text>
<text transform="translate(973.13,4621.60) scale(0.9500,1)" font-size="47.57">90</text>
<text transform="translate(1182.88,4621.60) scale(0.9500,1)" font-size="47.57">120</text>
<text transform="translate(1405.86,4621.60) scale(0.9500,1)" font-size="47.57">150</text>
<text transform="translate(1628.84,4621.60) scale(0.9500,1)" font-size="47.57">180</text>
<text transform="translate(1852.38,4621.60) scale(0.9500,1)" font-size="47.57">210</text>
<text transform="translate(2075.36,4621.60) scale(0.9500,1)" font-size="47.57">240</text>
<text transform="translate(2298.34,4621.60) scale(0.9500,1)" font-size="47.57">270</text>
<text transform="translate(173.62,3450.00) scale(0.8558,1)" font-size="78.30" font-weight="bold">c</text>
<text transform="translate(876.79,3442.00) scale(1.0730,1)" font-size="81.88" font-weight="bold">C-peptide increments</text>
<text transform="translate(185.90,4119.35) rotate(-90) scale(0.9376,1)" font-size="71.45" font-weight="bold">ng/mL</text>
<text transform="translate(1204.39,4703.40) scale(1.0187,1)" font-size="65.09" font-weight="bold">minutes</text>
<polyline points="368.2,4219.3 405.4,4067.6 479.7,3825.5 554.0,3752.7 777.1,3918.8 1000.1,4096.0 1223.2,4176.8 1669.3,4310.0 2115.4,4397.6" fill="none" stroke="#0070C0" stroke-width="5.8" stroke-linejoin="round" stroke-linecap="butt" stroke-dasharray="14 8"/>
<path d="M368.2,4172.0V4219.0M356.2,4172.0H380.2M356.2,4196.6H380.2" fill="none" stroke="#000" stroke-width="4.5"/>
<path d="M405.4,3973.5V4067.0M393.4,3973.5H417.4M393.4,4021.3H417.4M393.4,4046.7H417.4" fill="none" stroke="#000" stroke-width="4.5"/>
<path d="M479.7,3749.5V3825.0M467.7,3749.5H491.7" fill="none" stroke="#000" stroke-width="4.5"/>
<path d="M1000.1,4064.2V4096.0M988.1,4064.2H1012.1" fill="none" stroke="#000" stroke-width="4.5"/>
<path d="M368.2,4219.0V4291.0" fill="none" stroke="#000" stroke-width="4.5"/>
<path d="M405.4,4067.0V4250.0" fill="none" stroke="#000" stroke-width="4.5"/>
<path d="M479.7,3708.0V3896.0M467.7,3708.0H491.7" fill="none" stroke="#000" stroke-width="4.5"/>
<path d="M554.0,3602.4V3709.0M542.0,3602.4H566.0" fill="none" stroke="#000" stroke-width="4.5"/>
<path d="M777.1,3856.4V3888.0M765.1,3856.4H789.1" fill="none" stroke="#000" stroke-width="4.5"/>
<path d="M1669.3,4264.8V4288.0M1657.3,4264.8H1681.3" fill="none" stroke="#000" stroke-width="4.5"/>
<path d="M479.7,3981.3V4075.0M467.7,3981.3H491.7" fill="none" stroke="#000" stroke-width="4.5"/>
<path d="M554.0,3928.8V3988.0M542.0,3928.8H566.0" fill="none" stroke="#000" stroke-width="4.5"/>
<path d="M777.1,3960.0V4010.0" fill="none" stroke="#000" stroke-width="4.5"/>
<path d="M1223.2,4103.0V4130.0M1211.2,4103.0H1235.2" fill="none" stroke="#000" stroke-width="4.5"/>
<path d="M479.7,3674.4V3818.0M467.7,3674.4H491.7" fill="none" stroke="#000" stroke-width="4.5"/>
<path d="M554.0,3582.0V3700.0M542.0,3582.0H566.0" fill="none" stroke="#000" stroke-width="4.5"/>
<path d="M368.2,4202.6L388.4,4219.3L368.2,4236.1L347.9,4219.3Z" fill="#4F81BD" stroke="#000" stroke-width="3" stroke-linejoin="miter"/>
<path d="M405.4,4050.8L425.6,4067.6L405.4,4084.3L385.1,4067.6Z" fill="#4F81BD" stroke="#000" stroke-width="3" stroke-linejoin="miter"/>
<path d="M479.7,3808.8L499.9,3825.5L479.7,3842.2L459.4,3825.5Z" fill="#4F81BD" stroke="#000" stroke-width="3" stroke-linejoin="miter"/>
<path d="M554.0,3735.9L574.3,3752.7L554.0,3769.4L533.8,3752.7Z" fill="#4F81BD" stroke="#000" stroke-width="3" stroke-linejoin="miter"/>
<path d="M777.1,3902.1L797.3,3918.8L777.1,3935.6L756.8,3918.8Z" fill="#4F81BD" stroke="#000" stroke-width="3" stroke-linejoin="miter"/>
<path d="M1000.1,4079.2L1020.4,4096.0L1000.1,4112.8L979.9,4096.0Z" fill="#4F81BD" stroke="#000" stroke-width="3" stroke-linejoin="miter"/>
<path d="M1223.2,4160.1L1243.4,4176.8L1223.2,4193.6L1202.9,4176.8Z" fill="#4F81BD" stroke="#000" stroke-width="3" stroke-linejoin="miter"/>
<path d="M1669.3,4293.2L1689.5,4310.0L1669.3,4326.8L1649.0,4310.0Z" fill="#4F81BD" stroke="#000" stroke-width="3" stroke-linejoin="miter"/>
<path d="M2115.4,4380.9L2135.6,4397.6L2115.4,4414.4L2095.1,4397.6Z" fill="#4F81BD" stroke="#000" stroke-width="3" stroke-linejoin="miter"/>
<polyline points="368.2,4291.4 405.4,4164.3 479.7,3896.0 554.0,3709.4 777.1,3887.9 1000.1,4162.4 1223.2,4215.5 1669.3,4287.6 2115.4,4390.0" fill="none" stroke="#FF0000" stroke-width="6" stroke-linejoin="round" stroke-linecap="butt"/>
<rect x="351.1" y="4275.3" width="34.2" height="32.2" rx="1.5" fill="#C0504D" stroke="#000" stroke-width="3.3"/>
<rect x="388.2" y="4148.2" width="34.2" height="32.2" rx="1.5" fill="#C0504D" stroke="#000" stroke-width="3.3"/>
<rect x="462.6" y="3879.9" width="34.2" height="32.2" rx="1.5" fill="#C0504D" stroke="#000" stroke-width="3.3"/>
<rect x="536.9" y="3693.3" width="34.2" height="32.2" rx="1.5" fill="#C0504D" stroke="#000" stroke-width="3.3"/>
<rect x="760.0" y="3871.8" width="34.2" height="32.2" rx="1.5" fill="#C0504D" stroke="#000" stroke-width="3.3"/>
<rect x="983.0" y="4146.3" width="34.2" height="32.2" rx="1.5" fill="#C0504D" stroke="#000" stroke-width="3.3"/>
<rect x="1206.1" y="4199.4" width="34.2" height="32.2" rx="1.5" fill="#C0504D" stroke="#000" stroke-width="3.3"/>
<rect x="1652.2" y="4271.5" width="34.2" height="32.2" rx="1.5" fill="#C0504D" stroke="#000" stroke-width="3.3"/>
<rect x="2098.3" y="4373.9" width="34.2" height="32.2" rx="1.5" fill="#C0504D" stroke="#000" stroke-width="3.3"/>
<polyline points="368.2,4308.5 405.4,4249.7 479.7,4075.5 554.0,3988.0 777.1,4009.9 1000.1,4142.0 1223.2,4130.6 1669.3,4321.6 2115.4,4391.7" fill="none" stroke="#00B050" stroke-width="5.8" stroke-linejoin="round" stroke-linecap="butt" stroke-dasharray="20.5 14"/>
<path d="M368.2,4289.8L388.6,4328.9L347.7,4328.9Z" fill="#9BBB59" stroke="#000" stroke-width="3.3" stroke-linejoin="miter"/>
<path d="M405.4,4231.0L425.8,4270.1L384.9,4270.1Z" fill="#9BBB59" stroke="#000" stroke-width="3.3" stroke-linejoin="miter"/>
<path d="M479.7,4056.8L500.1,4095.8L459.2,4095.8Z" fill="#9BBB59" stroke="#000" stroke-width="3.3" stroke-linejoin="miter"/>
<path d="M554.0,3969.3L574.5,4008.3L533.6,4008.3Z" fill="#9BBB59" stroke="#000" stroke-width="3.3" stroke-linejoin="miter"/>
<path d="M777.1,3991.2L797.5,4030.2L756.6,4030.2Z" fill="#9BBB59" stroke="#000" stroke-width="3.3" stroke-linejoin="miter"/>
<path d="M1000.1,4123.3L1020.6,4162.4L979.7,4162.4Z" fill="#9BBB59" stroke="#000" stroke-width="3.3" stroke-linejoin="miter"/>
<path d="M1223.2,4111.9L1243.6,4151.0L1202.7,4151.0Z" fill="#9BBB59" stroke="#000" stroke-width="3.3" stroke-linejoin="miter"/>
<path d="M1669.3,4302.9L1689.8,4342.0L1648.8,4342.0Z" fill="#9BBB59" stroke="#000" stroke-width="3.3" stroke-linejoin="miter"/>
<path d="M2115.4,4373.0L2135.8,4412.1L2094.9,4412.1Z" fill="#9BBB59" stroke="#000" stroke-width="3.3" stroke-linejoin="miter"/>
<polyline points="368.2,4259.2 405.4,4179.5 479.7,3818.7 554.0,3700.3 777.1,3957.5 1000.1,4147.6 1223.2,4226.2 1669.3,4343.4 2115.4,4429.4" fill="none" stroke="#000" stroke-width="5.5" stroke-linejoin="round" stroke-linecap="butt"/>
<path d="M346.2,4237.2L390.2,4281.2M390.2,4237.2L346.2,4281.2M368.2,4237.2L368.2,4281.2" fill="none" stroke="#8064A2" stroke-width="3"/>
<path d="M383.4,4157.5L427.4,4201.5M427.4,4157.5L383.4,4201.5M405.4,4157.5L405.4,4201.5" fill="none" stroke="#8064A2" stroke-width="3"/>
<path d="M457.7,3796.7L501.7,3840.7M501.7,3796.7L457.7,3840.7M479.7,3796.7L479.7,3840.7" fill="none" stroke="#8064A2" stroke-width="3"/>
<path d="M532.0,3678.3L576.0,3722.3M576.0,3678.3L532.0,3722.3M554.0,3678.3L554.0,3722.3" fill="none" stroke="#8064A2" stroke-width="3"/>
<path d="M755.1,3935.5L799.1,3979.5M799.1,3935.5L755.1,3979.5M777.1,3935.5L777.1,3979.5" fill="none" stroke="#8064A2" stroke-width="3"/>
<path d="M978.1,4125.6L1022.1,4169.6M1022.1,4125.6L978.1,4169.6M1000.1,4125.6L1000.1,4169.6" fill="none" stroke="#8064A2" stroke-width="3"/>
<path d="M1201.2,4204.2L1245.2,4248.2M1245.2,4204.2L1201.2,4248.2M1223.2,4204.2L1223.2,4248.2" fill="none" stroke="#8064A2" stroke-width="3"/>
<path d="M1647.3,4321.4L1691.3,4365.4M1691.3,4321.4L1647.3,4365.4M1669.3,4321.4L1669.3,4365.4" fill="none" stroke="#8064A2" stroke-width="3"/>
<path d="M2093.4,4407.4L2137.4,4451.4M2137.4,4407.4L2093.4,4451.4M2115.4,4407.4L2115.4,4451.4" fill="none" stroke="#8064A2" stroke-width="3"/>
<line x1="315.0" y1="4317.0" x2="2104.0" y2="4317.0" stroke="#8c8c8c" stroke-width="2.8"/>
<text transform="translate(535.64,4125.05) scale(1.0341,1)" font-size="82.64" style="font-family:'DejaVu Sans',sans-serif" stroke="#000" stroke-width="1.3" stroke-linejoin="round">*</text>
<text transform="translate(459.64,4222.95) scale(1.0341,1)" font-size="82.64" style="font-family:'DejaVu Sans',sans-serif" stroke="#000" stroke-width="1.3" stroke-linejoin="round">*</text>
<polyline points="324.0,4813.5 464.6,4813.5" fill="none" stroke="#0070C0" stroke-width="4.8" stroke-linejoin="round" stroke-linecap="butt" stroke-dasharray="12 5"/>
<path d="M395.6,4791.0L418.1,4813.5L395.6,4836.0L373.1,4813.5Z" fill="#4F81BD" stroke="#000" stroke-width="4" stroke-linejoin="miter"/>
<text transform="translate(478.52,4843.40) scale(0.9581,1)" font-size="64.64" font-weight="bold">Cow</text>
<polyline points="697.3,4813.5 839.0,4813.5" fill="none" stroke="#FF0000" stroke-width="5.4" stroke-linejoin="round" stroke-linecap="butt"/>
<rect x="750.2" y="4796.3" width="34.4" height="33.4" rx="1.5" fill="#C0504D" stroke="#000" stroke-width="3.6"/>
<text transform="translate(851.14,4843.40) scale(1.0147,1)" font-size="64.64" font-weight="bold">Hum</text>
<polyline points="1082.8,4813.5 1212.5,4813.5" fill="none" stroke="#00B050" stroke-width="5" stroke-linejoin="round" stroke-linecap="butt" stroke-dasharray="21 15.2"/>
<path d="M1153.8,4795.7L1174.3,4835.7L1133.3,4835.7Z" fill="#9BBB59" stroke="#000" stroke-width="4" stroke-linejoin="miter"/>
<text transform="translate(1236.74,4843.40) scale(0.9885,1)" font-size="64.64" font-weight="bold">Cow[</text>
<text transform="translate(1377.77,4853.70) scale(1.4703,1)" font-size="83.70" style="font-family:'DejaVu Sans',sans-serif">↓</text>
<text transform="translate(1462.32,4843.40) scale(0.9200,1)" font-size="64.64" font-weight="bold">Cas]</text>
<polyline points="1680.7,4813.5 1820.4,4813.5" fill="none" stroke="#000" stroke-width="4.6" stroke-linejoin="round" stroke-linecap="butt"/>
<path d="M1730.0,4791.0L1774.0,4836.0M1774.0,4791.0L1730.0,4836.0M1752.0,4791.0L1752.0,4836.0" fill="none" stroke="#8064A2" stroke-width="5"/>
<text transform="translate(1835.12,4843.40) scale(0.9950,1)" font-size="64.64" font-weight="bold">Hum[</text>
<text transform="translate(1987.74,4851.50) scale(1.4352,1)" font-size="82.47" style="font-family:'DejaVu Sans',sans-serif">↑</text>
<text transform="translate(2071.44,4843.40) scale(0.9133,1)" font-size="64.64" font-weight="bold">Cas]</text>
</svg>
</body></html>
